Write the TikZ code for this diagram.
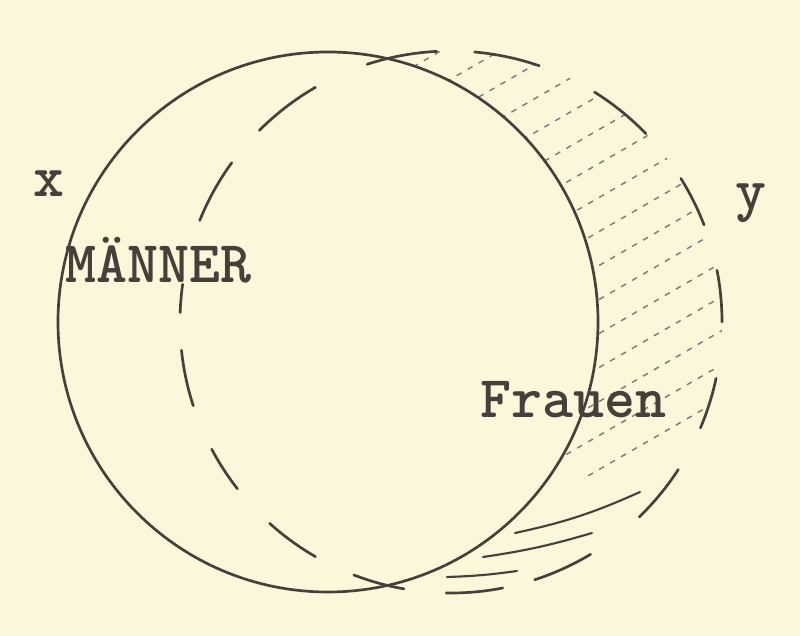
\documentclass[tikz,border=0pt]{standalone}
\usepackage{fontspec}
\usepackage{tikz}
\definecolor{paper}{RGB}{252,246,218}
\definecolor{ink}{RGB}{72,62,58}

\begin{document}
\begin{tikzpicture}[x=0.25mm, y=0.25mm,
    pen/.style={draw=ink, line width=1.9pt, line cap=round},
    hatch/.style={draw=ink!70, line width=1pt, dash pattern=on 4pt off 5pt},
    typed/.style={text=ink, inner sep=0pt, anchor=base west,
      font=\ttfamily\bfseries\fontsize{42}{42}\selectfont}]
    \fill [paper] (0,0) rectangle (800,636);
    \useasboundingbox (0,0) rectangle (800,636);
    \coordinate (mc) at (328,314);
    \coordinate (dc) at (451,314);
    % hatching of the part outside
    \begin{scope}
        \clip (380,160) rectangle (800,636);
        \clip (dc) circle (271);
        \foreach \k in {0,...,15}
            \draw [hatch] (380, 40+\k*34) -- ++(30:520);
    \end{scope}
    \draw [pen, fill=paper] (mc) circle (270);
    \foreach \a/\b in {93/108, 71/85, 44/58, 21/32, 0/11, -23/-12, -46/-33,
        -72/-59, -91/-79, -111/-100, -132/-120, -152/-142, -174/-162,
        172/178, 144/158, 120/135}
        \draw [pen] (dc) ++(\a:271) arc [start angle=\a, end angle=\b, radius=271];
    \draw [pen, line width=1.5pt] (515,103) to [bend right=6] (640,144);
    \draw [pen, line width=1.5pt] (483,79) to [bend right=4] (592,103);
    \draw [pen, line width=1.5pt] (447,59) to [bend right=3] (517,65);
    \node [typed] (xlab) at (33,439) {x};
    \node [typed] (ylab) at (735,426) {y};
    \node [typed] (maenner) at (65,353) {MÄNNER};
    \node [typed] (frauen) at (480,218) {Frauen};
\end{tikzpicture}
\end{document}
